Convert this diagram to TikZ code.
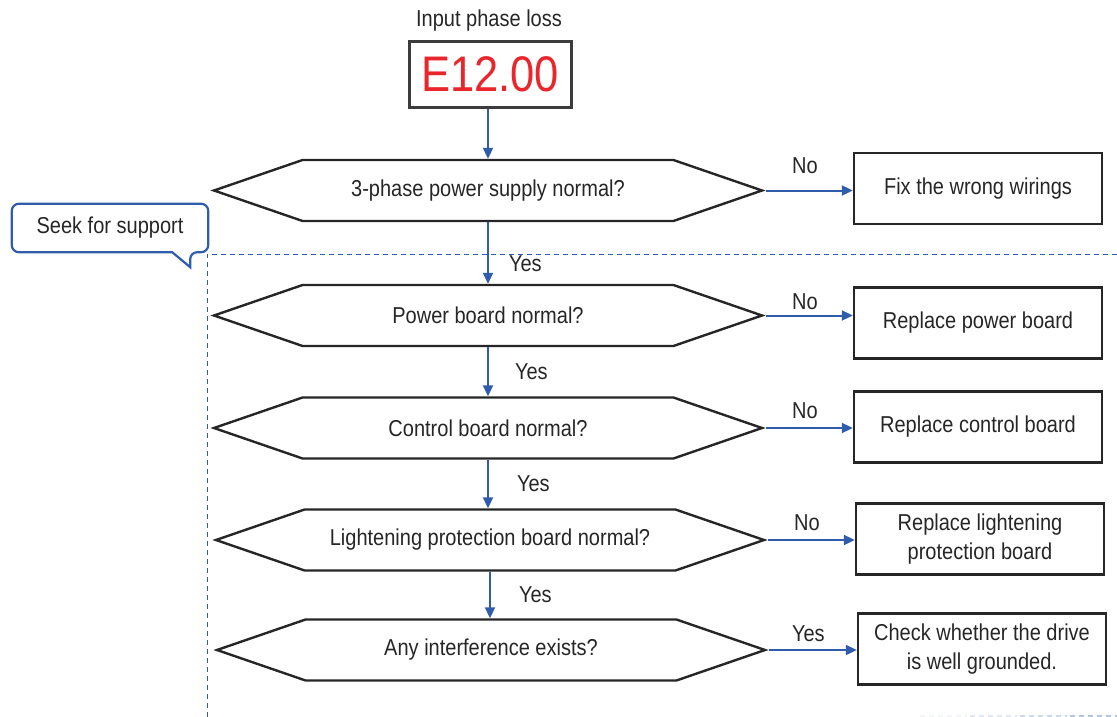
\documentclass[tikz,border=0pt]{standalone}
\usepackage{fontspec}
\setmainfont{Liberation Sans}[FakeStretch=0.87]
\usetikzlibrary{positioning, arrows.meta, shapes.symbols}
\definecolor{flowblue}{HTML}{2F5DAB}
\definecolor{inkgray}{HTML}{262626}
\definecolor{ledred}{HTML}{E8262B}

\begin{document}
\begin{tikzpicture}[x=1pt, y=-1pt,
    every node/.style={font=\fontsize{23}{29}\selectfont, text=inkgray},
    check/.style={signal, signal to=west and east, signal pointer angle=38,
      draw=inkgray, line width=2.4pt, minimum width=548pt, minimum height=61pt, inner sep=0pt},
    action/.style={draw=inkgray, line width=2.4pt, minimum width=248pt, minimum height=71pt,
      align=center, inner sep=2pt},
    flow/.style={flowblue, line width=2pt, -{Triangle[length=11pt, width=10pt]}},
    lbl/.style={inner sep=2pt}]
  \useasboundingbox (0,0) rectangle (1117,717);

  % support frame
  \draw[flowblue, line width=1pt, dash pattern=on 5pt off 4pt] (1117,254) -- (207,254) -- (207,717);
  \foreach \x/\c in {920/6,970/14,1020/24,1070/36}
    \draw[flowblue!\c, line width=1.5pt, dash pattern=on 5pt off 4pt] (\x,716) -- ++(47,0);

  \node (title) at (489,21) {Input phase loss};
  \node[draw=inkgray!90, line width=3pt, minimum width=162pt, minimum height=65pt,
        text=ledred, font=\fontsize{50}{50}\selectfont] (code) at (490,74.5) {E12.00};

  % checks
  \node[check] (q1) at (488,190.5) {3-phase power supply normal?};
  \node[check] (q2) at (488,315.5) {Power board normal?};
  \node[check] (q3) at (488,428) {Control board normal?};
  \node[check] (q4) at (490,540) {Lightening protection board normal?};
  \node[check] (q5) at (491,650) {Any interference exists?};

  % actions
  \node[action] (a1) at (978,188.5) {Fix the wrong wirings};
  \node[action] (a2) at (978,323) {Replace power board};
  \node[action] (a3) at (978,427) {Replace control board};
  \node[action] (a4) at (980,539) {Replace lightening\\protection board};
  \node[action] (a5) at (982,649) {Check whether the drive\\is well grounded.};

  % speech bubble
  \node[minimum width=196pt, minimum height=48pt] (help) at (110,228) {Seek for support};
  \draw[flowblue, line width=2.2pt, rounded corners=7pt]
    (help.south west) -- (help.north west) -- (help.north east) -- (help.south east)
    -- ([xshift=-18pt]help.south east) [sharp corners] -- ([xshift=-18pt, yshift=-15pt]help.south east)
    -- ([xshift=-36pt]help.south east) [rounded corners=7pt] -- cycle;

  \draw[flow] (code.south -| q1.north) -- (q1.north);
  \draw[flow] (q1.south) -- (q2.north) node[lbl, right=18pt, pos=.68] {Yes};
  \draw[flow] (q2.south) -- (q3.north) node[lbl, right=24pt, midway] {Yes};
  \draw[flow] (q3.south) -- (q3.south |- q4.north) node[lbl, right=26pt, midway] {Yes};
  \draw[flow] (q4.south) -- (q4.south |- q5.north) node[lbl, right=26pt, midway] {Yes};

  \draw[flow] (q1.east) -- (q1.east -| a1.west) node[lbl, above=14pt, pos=.45] {No};
  \draw[flow] (q2.east) -- (q2.east -| a2.west) node[lbl, above=3pt, pos=.45] {No};
  \draw[flow] (q3.east) -- (q3.east -| a3.west) node[lbl, above=6pt, pos=.45] {No};
  \draw[flow] (q4.east) -- (q4.east -| a4.west) node[lbl, above=6pt, pos=.45] {No};
  \draw[flow] (q5.east) -- (q5.east -| a5.west) node[lbl, above=5pt, pos=.45] {Yes};
\end{tikzpicture}
\end{document}
